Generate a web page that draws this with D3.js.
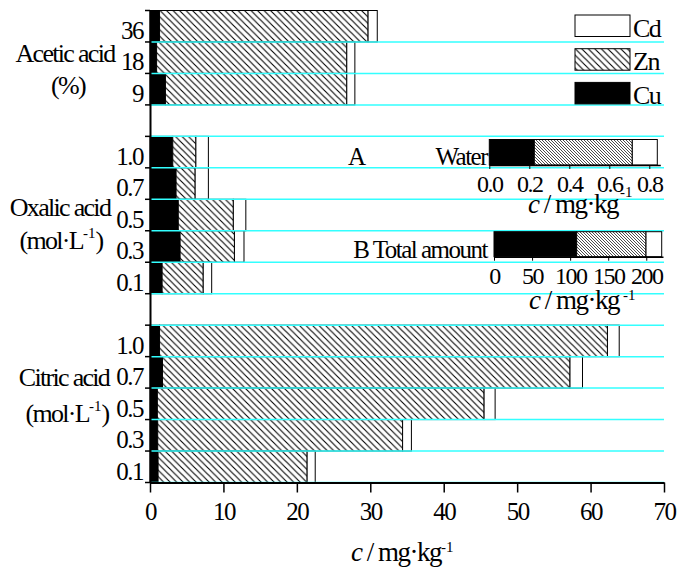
<!DOCTYPE html>
<html>
<head>
<meta charset="utf-8">
<script src="https://cdn.jsdelivr.net/npm/d3@7"></script>
<style>
body { margin: 0; background: #fff; }
svg text { font-family: "Liberation Serif", "Times New Roman", serif; fill: #000; }
</style>
</head>
<body>
<svg id="chart" width="678" height="569"></svg>
<script>
// values (mg/kg), stacked Cu | Zn | Cd
const aceticLevels = ["36", "18", "9"];
const aceticCu = [1.3, 0.9, 2.1];
const aceticZn = [28.4, 25.9, 24.7];
const aceticCd = [1.25, 1.1, 1.1];

const oxalicLevels = ["1.0", "0.7", "0.5", "0.3", "0.1"];
const oxalicCu = [3.1, 3.55, 3.85, 4.1, 1.65];
const oxalicZn = [3.15, 2.6, 7.5, 7.4, 5.6];
const oxalicCd = [1.7, 1.8, 1.7, 1.3, 1.15];

const citricLevels = ["1.0", "0.7", "0.5", "0.3", "0.1"];
const citricCu = [1.3, 1.7, 1.0, 1.05, 1.1];
const citricZn = [61.0, 55.5, 44.5, 33.35, 20.3];
const citricCd = [1.6, 1.7, 1.5, 1.2, 1.1];

// insets: Cu, Zn, Cd
const waterValues = [0.225, 0.49, 0.125];
const totalValues = [108.6, 91.1, 20.6];

const metals = ["Cu", "Zn", "Cd"];
const legendOrder = ["Cd", "Zn", "Cu"];
const xTicks = [0, 10, 20, 30, 40, 50, 60, 70];
const waterTicks = [0, 0.2, 0.4, 0.6, 0.8];
const totalTicks = [0, 50, 100, 150, 200];

const svg = d3.select("#chart");
const defs = svg.append("defs");

function hatch(id, s, w) {
	const p = defs.append("pattern").attr("id", id)
		.attr("patternUnits", "userSpaceOnUse").attr("width", s).attr("height", s);
	p.append("rect").attr("width", s).attr("height", s).attr("fill", "#fff");
	p.append("path")
		.attr("d", "M0,0L" + s + "," + s + "M-1," + (s - 1) + "L1," + (s + 1) + "M" + (s - 1) + ",-1L" + (s + 1) + ",1")
		.attr("stroke", "#000").attr("stroke-width", w);
}
hatch("hatch", 6.5, 1.1);
hatch("hatchFine", 3, 0.7);

function fillFor(m, fine) {
	if (m == "Cu") return "#000";
	if (m == "Zn") return fine ? "url(#hatchFine)" : "url(#hatch)";
	return "#fff";
}

// build rows
const groups = [
	{name: "acetic", levels: aceticLevels, cu: aceticCu, zn: aceticZn, cd: aceticCd},
	{name: "oxalic", levels: oxalicLevels, cu: oxalicCu, zn: oxalicZn, cd: oxalicCd},
	{name: "citric", levels: citricLevels, cu: citricCu, zn: citricZn, cd: citricCd}
];
let rows = [];
let keys = [];
groups.forEach(function(g, gi) {
	if (gi > 0) keys.push("gap" + gi);
	g.levels.forEach(function(l, i) {
		const key = g.name + "|" + l;
		keys.push(key);
		rows.push({key: key, group: g.name, level: l, first: i == 0, vals: [g.cu[i], g.zn[i], g.cd[i]]});
	});
});

const x = d3.scaleLinear().domain([0, 70]).range([150, 664]);
const y = d3.scaleBand().domain(keys).range([10.5, 482.5]).padding(0);
const bw = y.bandwidth();

// bars
rows.forEach(function(r) {
	let acc = 0;
	r.vals.forEach(function(v, i) {
		svg.append("rect")
			.attr("x", x(acc)).attr("y", y(r.key))
			.attr("width", x(acc + v) - x(acc)).attr("height", bw)
			.attr("fill", fillFor(metals[i], false))
			.attr("stroke", "#000").attr("stroke-width", 1);
		acc += v;
	});
});

// cyan grid lines at band edges
let gridY = [];
rows.forEach(function(r) {
	if (r.first && r.group != "acetic") gridY.push(y(r.key));
	gridY.push(y(r.key) + bw);
});
svg.selectAll("line.grid").data(gridY).enter().append("line")
	.attr("class", "grid")
	.attr("x1", 151).attr("x2", 664)
	.attr("y1", function(d) { return d; }).attr("y2", function(d) { return d; })
	.attr("stroke", "#33ffff").attr("stroke-width", 1.5);

// left axis
const leftAxis = svg.append("g").attr("transform", "translate(150,0)")
	.call(d3.axisLeft(y).tickValues(rows.map(function(r) { return r.key; }))
		.tickFormat(function(k) { return k.split("|")[1]; })
		.tickSize(0).tickSizeOuter(0).tickPadding(7));
leftAxis.select(".domain").attr("stroke-width", 2);
leftAxis.selectAll("text")
	.attr("dy", bw / 2 - 3)
	.style("font-size", "25px").style("letter-spacing", "-1.5px");
// boundary ticks
let tickY = [10.5].concat(gridY);
svg.selectAll("line.ltick").data(tickY).enter().append("line")
	.attr("class", "ltick")
	.attr("x1", 145).attr("x2", 150)
	.attr("y1", function(d) { return d; }).attr("y2", function(d) { return d; })
	.attr("stroke", "#000").attr("stroke-width", 1.5);

// bottom axis
const bottomAxis = svg.append("g").attr("transform", "translate(0,482.5)")
	.call(d3.axisBottom(x).tickValues(xTicks).tickSize(10).tickSizeOuter(0).tickPadding(10));
bottomAxis.select(".domain").attr("stroke-width", 2);
bottomAxis.selectAll(".tick line").attr("stroke-width", 1.5);
bottomAxis.selectAll("text").style("font-size", "25px").style("letter-spacing", "-1.5px");

// text helper: parts with optional superscript
function richText(px, py, parts, size, spacing, anchor) {
	const t = svg.append("text").attr("x", px).attr("y", py)
		.attr("text-anchor", anchor || "start")
		.style("font-size", size + "px").style("letter-spacing", spacing + "px");
	parts.forEach(function(p) {
		const s = t.append("tspan").text(p.t);
		if (p.italic) s.style("font-style", "italic");
		if (p.sup) s.style("font-size", "15px").attr("dy", p.sup).style("letter-spacing", "0px");
		if (p.down) s.attr("dy", p.down);
	});
	return t;
}

// group labels
const molL = [{t: "(mol·L"}, {t: "-1", sup: -11}, {t: ")", down: 11}];
richText(65, 61.7, [{t: "Acetic acid"}], 26, -1.7, "middle");
richText(68, 94, [{t: "(%)"}], 26, -1.7, "middle");
richText(60, 216, [{t: "Oxalic acid"}], 26, -1.7, "middle");
richText(61, 249, molL, 26, -1.7, "middle");
richText(64, 386, [{t: "Citric acid"}], 26, -1.7, "middle");
richText(67, 422, molL, 26, -1.7, "middle");

// main axis title
richText(351, 561, [{t: "c", italic: true}, {t: " / mg·kg"}, {t: "-1", sup: -9}], 27, -1.5);

// legend
legendOrder.forEach(function(m, i) {
	const ly = 15 + i * 33.7;
	svg.append("rect").attr("x", 575).attr("y", ly).attr("width", 55).attr("height", 21.5)
		.attr("fill", fillFor(m, false)).attr("stroke", "#000").attr("stroke-width", 1);
	richText(633, ly + 21.5, [{t: m}], 26, -1.5);
});

// inset bars
function inset(values, domainMax, range, barTop, barBottom, ticks, fmt) {
	const sx = d3.scaleLinear().domain([0, domainMax]).range(range);
	let acc = 0;
	values.forEach(function(v, i) {
		svg.append("rect")
			.attr("x", sx(acc)).attr("y", barTop)
			.attr("width", sx(acc + v) - sx(acc)).attr("height", barBottom - barTop)
			.attr("fill", fillFor(metals[i], true))
			.attr("stroke", "#000").attr("stroke-width", 1);
		acc += v;
	});
	const ax = svg.append("g").attr("transform", "translate(0," + barBottom + ")")
		.call(d3.axisBottom(sx).tickValues(ticks).tickFormat(fmt).tickSize(4).tickSizeOuter(0).tickPadding(6));
	ax.select(".domain").attr("stroke-width", 1.5);
	ax.selectAll("text").style("font-size", "24px").style("letter-spacing", "-1.5px");
}
inset(waterValues, 0.855, [489.3, 660.3], 139.5, 165, waterTicks, d3.format(".1f"));
inset(totalValues, 222, [494, 663], 231.7, 256.7, totalTicks, d3.format("d"));

richText(348, 165, [{t: "A"}], 25, -1.5);
richText(487, 165, [{t: "Water"}], 25, -1.5, "end");
richText(487, 258, [{t: "B Total amount"}], 25, -1.5, "end");

richText(528, 213, [{t: "c", italic: true}, {t: " / mg·kg"}], 27, -1.5);
richText(620, 197, [{t: "-1"}], 15, 0);
richText(529, 309, [{t: "c", italic: true}, {t: " / mg·kg"}], 27, -1.5);
richText(623, 300, [{t: "-1"}], 15, 0);
</script>
</body>
</html>
